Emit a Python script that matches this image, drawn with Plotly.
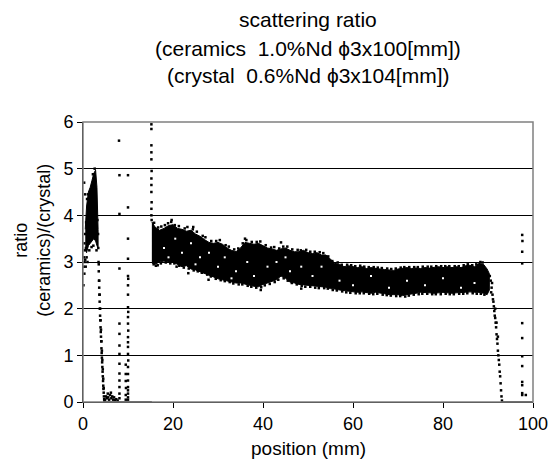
import plotly.graph_objects as go

FONT = "Liberation Sans, Arial, sans-serif"

# ---- dense band (envelope), position in mm ----
band_x = [15.3, 16, 17, 18, 19, 20, 21, 22, 23, 24, 25, 26, 27, 28, 29, 30, 31, 32, 33, 34,
          35, 36, 37, 38, 39, 40, 41, 42, 43, 44, 45, 46, 47, 48, 49, 50, 51, 52, 53, 54,
          55, 56, 57, 58, 59, 60, 61, 62, 63, 64, 65, 66, 67, 68, 69, 70, 71, 72, 73, 74,
          75, 76, 77, 78, 79, 80, 81, 82, 83, 84, 85, 86, 87, 88, 89, 89.8, 90.3]
band_upper = [3.86, 3.75, 3.68, 3.72, 3.78, 3.80, 3.72, 3.70, 3.66, 3.68, 3.60, 3.55, 3.48, 3.42, 3.40, 3.42, 3.38, 3.30, 3.25, 3.22,
              3.30, 3.42, 3.40, 3.38, 3.40, 3.35, 3.30, 3.28, 3.25, 3.28, 3.30, 3.25, 3.22, 3.22, 3.25, 3.20, 3.18, 3.20, 3.15, 3.15,
              3.05, 2.97, 2.95, 2.90, 2.92, 2.90, 2.88, 2.90, 2.86, 2.88, 2.86, 2.85, 2.84, 2.83, 2.82, 2.85, 2.86, 2.88, 2.86, 2.87,
              2.86, 2.88, 2.87, 2.88, 2.90, 2.88, 2.90, 2.88, 2.90, 2.88, 2.92, 2.93, 2.90, 2.97, 2.95, 2.85, 2.75]
band_lower = [2.98, 2.95, 3.00, 3.02, 3.00, 3.00, 2.95, 2.90, 2.92, 2.85, 2.83, 2.80, 2.76, 2.72, 2.68, 2.64, 2.62, 2.60, 2.57, 2.55,
              2.55, 2.52, 2.50, 2.48, 2.47, 2.52, 2.55, 2.58, 2.62, 2.70, 2.65, 2.57, 2.55, 2.52, 2.50, 2.50, 2.48, 2.47, 2.47, 2.46,
              2.43, 2.42, 2.40, 2.38, 2.37, 2.36, 2.35, 2.36, 2.35, 2.33, 2.35, 2.33, 2.32, 2.30, 2.30, 2.30, 2.28, 2.30, 2.32, 2.33,
              2.35, 2.35, 2.34, 2.33, 2.34, 2.35, 2.34, 2.33, 2.34, 2.35, 2.35, 2.36, 2.35, 2.35, 2.33, 2.30, 2.40]

# ---- scattered points along the upper edge of the band ----
up_edge_x = [15.8, 16.7, 17.4, 18.2, 18.9, 19.6, 20.4, 21.3, 22.6, 23.2, 24.4, 25.3, 26.6, 27.2, 28.5, 29.6,
             30.4, 31.7, 32.4, 33.6, 34.5, 35.5, 36.3, 37.5, 38.6, 39.4, 40.6, 41.8, 42.5, 43.6, 44.5, 45.4,
             46.5, 47.7, 48.4, 49.6, 50.5, 51.5, 52.6, 53.4, 54.5, 55.4, 56.6, 57.5, 58.7, 59.6, 60.5, 61.6,
             62.5, 63.5, 64.6, 65.5, 66.4, 67.6, 68.5, 69.5, 70.6, 71.4, 72.5, 73.6, 74.4, 75.5, 76.6, 77.4,
             78.5, 79.6, 80.5, 81.4, 82.6, 83.5, 84.6, 85.5, 86.5, 87.4, 88.3, 88.8,
             19.7, 24.5, 44.0, 36.0]
up_edge_y = [3.84, 3.74, 3.76, 3.79, 3.83, 3.86, 3.79, 3.77, 3.72, 3.75, 3.70, 3.65, 3.56, 3.53, 3.45, 3.45,
             3.47, 3.36, 3.33, 3.27, 3.29, 3.40, 3.47, 3.43, 3.43, 3.44, 3.36, 3.31, 3.32, 3.29, 3.33, 3.33,
             3.27, 3.26, 3.25, 3.26, 3.22, 3.22, 3.21, 3.19, 3.12, 3.02, 2.99, 2.94, 2.94, 2.93, 2.91, 2.92,
             2.90, 2.89, 2.89, 2.88, 2.87, 2.86, 2.85, 2.86, 2.88, 2.89, 2.89, 2.89, 2.89, 2.90, 2.90, 2.90,
             2.91, 2.91, 2.91, 2.91, 2.91, 2.91, 2.93, 2.95, 2.93, 2.95, 3.00, 2.99,
             3.90, 3.75, 3.42, 3.50]

# ---- scattered points along the lower edge of the band ----
lo_edge_x = [15.7, 16.6, 17.3, 18.4, 19.4, 20.3, 21.4, 22.4, 23.5, 24.6, 25.5, 26.4, 27.6, 28.4, 29.5, 30.6,
             31.5, 32.6, 33.4, 34.6, 35.4, 36.6, 37.4, 38.5, 39.6, 40.4, 41.5, 42.6, 43.4, 44.6, 45.5, 46.4,
             47.5, 48.6, 49.4, 50.5, 51.6, 52.4, 53.6, 54.4, 55.5, 56.4, 57.6, 58.5, 59.4, 60.6, 61.5, 62.4,
             63.6, 64.5, 65.4, 66.6, 67.5, 68.4, 69.6, 70.5, 71.6, 72.4, 73.5, 74.6, 75.4, 76.5, 77.6, 78.4,
             79.5, 80.6, 81.5, 82.4, 83.6, 84.5, 85.4, 86.6, 87.5, 88.4, 89.2,
             16.2, 20.8, 27.9, 39.5, 48.5, 23.4]
lo_edge_y = [2.95, 2.93, 2.97, 2.99, 2.97, 2.97, 2.92, 2.88, 2.86, 2.82, 2.80, 2.77, 2.73, 2.69, 2.64, 2.61,
             2.59, 2.57, 2.54, 2.52, 2.52, 2.49, 2.47, 2.45, 2.46, 2.50, 2.53, 2.57, 2.62, 2.65, 2.60, 2.55,
             2.52, 2.49, 2.47, 2.47, 2.45, 2.44, 2.44, 2.43, 2.40, 2.39, 2.37, 2.35, 2.34, 2.33, 2.33, 2.33,
             2.32, 2.31, 2.32, 2.30, 2.29, 2.28, 2.27, 2.27, 2.26, 2.28, 2.30, 2.31, 2.32, 2.32, 2.31, 2.31,
             2.31, 2.32, 2.31, 2.31, 2.32, 2.32, 2.33, 2.33, 2.32, 2.32, 2.30,
             2.92, 2.90, 2.62, 2.40, 2.43, 2.76]

# ---- light speckles inside the band ----
holes_x = [18, 20.5, 22, 24, 26, 28, 30, 31.5, 34, 36.5, 38, 41, 43, 46, 48.5, 51, 53, 57, 60, 64,
           68, 72, 76, 80, 84, 87, 19, 25, 33, 45]
holes_y = [3.30, 3.50, 3.20, 3.40, 3.10, 3.20, 2.90, 3.10, 2.80, 3.00, 2.70, 2.90, 3.00, 2.80, 2.90, 2.70, 2.90, 2.60, 2.50, 2.70,
           2.45, 2.60, 2.50, 2.65, 2.45, 2.55, 3.10, 2.95, 2.65, 3.10]

# ---- left peak (dense part) ----
peak_x = [0.5, 0.8, 1.2, 1.6, 2.0, 2.4, 2.8, 3.1, 3.35]
peak_upper = [3.70, 4.20, 4.50, 4.60, 4.75, 4.90, 4.97, 4.60, 3.70]
peak_lower = [3.30, 3.20, 3.35, 3.40, 3.45, 3.50, 3.45, 3.35, 3.30]

# sparse points left of / around the peak
left_x = [0.1, 0.15, 0.2, 0.3, 0.35, 0.4, 0.5, 0.45, 0.6, 0.65, 0.7, 0.8, 0.9, 1.0, 0.25, 0.3, 0.45,
          1.4, 1.9, 2.3, 2.6, 3.0, 3.2, 2.2, 1.1]
left_y = [2.50, 2.90, 3.10, 2.75, 3.00, 3.25, 3.05, 3.60, 2.90, 3.30, 3.85, 3.10, 4.35, 3.00, 4.70, 3.40, 4.45,
          3.25, 3.32, 3.35, 5.00, 3.25, 3.90, 4.88, 4.45]

# falling edge of the peak
fall_x = [3.35, 3.4, 3.45, 3.5, 3.55, 3.6, 3.65, 3.7, 3.75, 3.8, 3.85, 3.9, 3.95, 4.0, 4.05, 4.1, 4.15,
          4.2, 4.25, 4.3, 4.35, 4.4, 4.45, 4.5, 4.55, 4.6, 4.65, 4.7, 4.75,
          3.5, 3.6, 3.7, 3.8, 3.9, 4.0, 4.1, 4.2, 4.3, 4.4, 4.5, 4.6]
fall_y = [3.60, 3.30, 3.00, 2.80, 2.60, 2.45, 2.30, 2.15, 2.00, 1.85, 1.75, 1.60, 1.50, 1.40, 1.30, 1.15, 1.05,
          0.95, 0.85, 0.75, 0.65, 0.55, 0.45, 0.35, 0.28, 0.20, 0.12, 0.06, 0.02,
          2.95, 2.60, 2.30, 2.00, 1.75, 1.55, 1.30, 1.10, 0.90, 0.70, 0.50, 0.30]

# small values between the peak and the columns
low_x = [4.9, 5.1, 5.3, 5.5, 5.6, 5.8, 6.0, 6.2, 6.3, 6.5, 6.7, 6.9, 7.1, 7.4, 7.7]
low_y = [0.05, 0.12, 0.08, 0.18, 0.10, 0.05, 0.15, 0.20, 0.08, 0.12, 0.05, 0.10, 0.04, 0.06, 0.03]

# vertical columns of points
colA_x = [8.0, 8.1, 8.1, 8.1, 8.1, 8.1, 8.1, 8.1, 8.1, 8.1, 8.1, 8.1, 8.1, 8.1]
colA_y = [5.60, 4.86, 4.03, 2.86, 1.68, 1.46, 1.21, 1.03, 0.82, 0.61, 0.46, 0.32, 0.18, 0.08]
colB_x = [10.0, 10.0, 10.0, 10.0, 10.0, 10.05, 10.0, 10.0, 10.0, 10.05, 10.0, 10.0, 10.05, 10.0, 10.0,
          10.0, 10.0, 10.05, 10.0, 10.0, 10.0, 10.0, 10.0, 10.0, 10.0, 10.0,
          9.5, 9.5, 9.5, 9.55, 9.5, 9.5]
colB_y = [4.86, 4.17, 3.50, 3.07, 2.70, 2.64, 2.50, 2.30, 2.03, 1.93, 1.82, 1.68, 1.53, 1.39, 1.28,
          1.18, 1.03, 0.89, 0.75, 0.60, 0.46, 0.32, 0.25, 0.18, 0.10, 0.05,
          0.80, 0.60, 0.45, 0.30, 0.15, 0.05]
colC_x = [15.2, 15.2, 15.2, 15.2, 15.2, 15.25, 15.2, 15.2, 15.2, 15.25, 15.2, 15.2, 15.25]
colC_y = [5.95, 5.85, 5.50, 5.35, 5.20, 4.95, 4.79, 4.65, 4.50, 4.28, 4.14, 4.00, 3.90]

# zero stretches
zero1_x = [4.8, 15.3]
zero2_x = [93.0, 100.0]

# falling edge on the right
rfall_x = [90.6, 90.8, 91.0, 91.2, 91.4, 91.6, 91.8, 92.0, 92.2, 92.4, 92.6, 92.8, 93.0,
           90.9, 91.1, 91.3, 91.5, 91.7, 91.9, 92.1, 92.3, 92.5, 92.7, 92.9, 93.1,
           91.6, 91.9, 92.2, 90.4, 90.7]
rfall_y = [2.60, 2.45, 2.30, 2.15, 1.95, 1.80, 1.60, 1.35, 1.10, 0.90, 0.65, 0.40, 0.12,
           2.55, 2.20, 2.05, 1.85, 1.70, 1.45, 1.25, 1.00, 0.80, 0.55, 0.25, 0.03,
           2.00, 1.70, 1.40, 2.70, 2.35]

# column near 97.6 mm
colR_x = [97.6, 97.65, 97.6, 97.6, 97.6, 97.6, 97.6, 97.6, 97.6, 97.6, 97.6, 97.6, 98.4]
colR_y = [3.58, 3.45, 3.22, 2.97, 1.69, 1.37, 0.98, 0.77, 0.43, 0.36, 0.19, 0.15, 0.15]

x_ticks = [0, 20, 40, 60, 80, 100]
y_ticks = [0, 1, 2, 3, 4, 5, 6]

title_lines = ["scattering ratio",
               "(ceramics\u00a0\u00a01.0%Nd \u03d53x100[mm])",
               "(crystal\u00a0\u00a00.6%Nd \u03d53x104[mm])"]

# plot area in pixels (for placing text relative to it)
PL, PR, PT, PB = 83, 540, 122, 402


def px_to_paper_y(py):
    return (PB - py) / (PB - PT)


def px_to_paper_x(px):
    return (px - PL) / (PR - PL)


fig = go.Figure()

fig.add_trace(go.Scatter(
    x=band_x + band_x[::-1], y=band_upper + band_lower[::-1],
    mode="lines", fill="toself", fillcolor="black",
    line=dict(color="black", width=1), hoverinfo="skip", showlegend=False))
fig.add_trace(go.Scatter(
    x=peak_x + peak_x[::-1], y=peak_upper + peak_lower[::-1],
    mode="lines", fill="toself", fillcolor="black",
    line=dict(color="black", width=1), hoverinfo="skip", showlegend=False))
for zx in (zero1_x, zero2_x):
    fig.add_trace(go.Scatter(x=zx, y=[0] * len(zx), mode="lines",
                             line=dict(color="black", width=1.5), showlegend=False))

fig.add_trace(go.Scatter(x=holes_x, y=holes_y, mode="markers",
                         marker=dict(symbol="square", size=2, color="white", line=dict(width=0)),
                         showlegend=False))

pts_x = up_edge_x + lo_edge_x + left_x + fall_x + low_x + colA_x + colB_x + colC_x + rfall_x + colR_x
pts_y = up_edge_y + lo_edge_y + left_y + fall_y + low_y + colA_y + colB_y + colC_y + rfall_y + colR_y
fig.add_trace(go.Scatter(x=pts_x, y=pts_y, mode="markers",
                         marker=dict(symbol="square", size=2.5, color="black",
                                     line=dict(width=0)),
                         showlegend=False))

annotations = []
for text, py in zip(title_lines, [19, 48, 76]):
    annotations.append(dict(text=text, xref="paper", yref="paper", x=0.5, y=px_to_paper_y(py),
                            xanchor="center", yanchor="middle", showarrow=False,
                            font=dict(size=21, family=FONT, color="black")))
annotations.append(dict(text="position (mm)", xref="paper", yref="paper", x=0.5,
                        y=px_to_paper_y(448), xanchor="center", yanchor="middle", showarrow=False,
                        font=dict(size=19, family=FONT, color="black")))
annotations.append(dict(text="ratio<br>(ceramics)/(crystal)", xref="paper", yref="paper",
                        x=px_to_paper_x(31), y=px_to_paper_y(240), textangle=-90,
                        xanchor="center", yanchor="middle", showarrow=False,
                        font=dict(size=18, family=FONT, color="black")))

fig.update_layout(
    width=560, height=462,
    margin=dict(l=PL, r=560 - PR, t=PT, b=462 - PB),
    paper_bgcolor="white", plot_bgcolor="white",
    font=dict(family=FONT, color="black"),
    showlegend=False,
    xaxis=dict(range=[0, 100], tickvals=x_ticks, ticktext=[str(v) for v in x_ticks],
               showgrid=False, zeroline=False, showline=True, linecolor="black", linewidth=1,
               ticks="outside", ticklen=5, tickcolor="black",
               tickfont=dict(size=18, family=FONT, color="black")),
    yaxis=dict(range=[0, 6], tickvals=y_ticks, ticktext=[str(v) for v in y_ticks],
               showgrid=True, gridcolor="black", gridwidth=1, zeroline=False,
               showline=True, linecolor="black", linewidth=1,
               ticks="outside", ticklen=5, tickcolor="black",
               tickfont=dict(size=18, family=FONT, color="black")),
    shapes=[dict(type="rect", xref="paper", yref="paper", x0=0, x1=1, y0=0, y1=1,
                 line=dict(color="#808080", width=1.5), layer="above")],
    annotations=annotations,
)

fig.write_html("out.html")
